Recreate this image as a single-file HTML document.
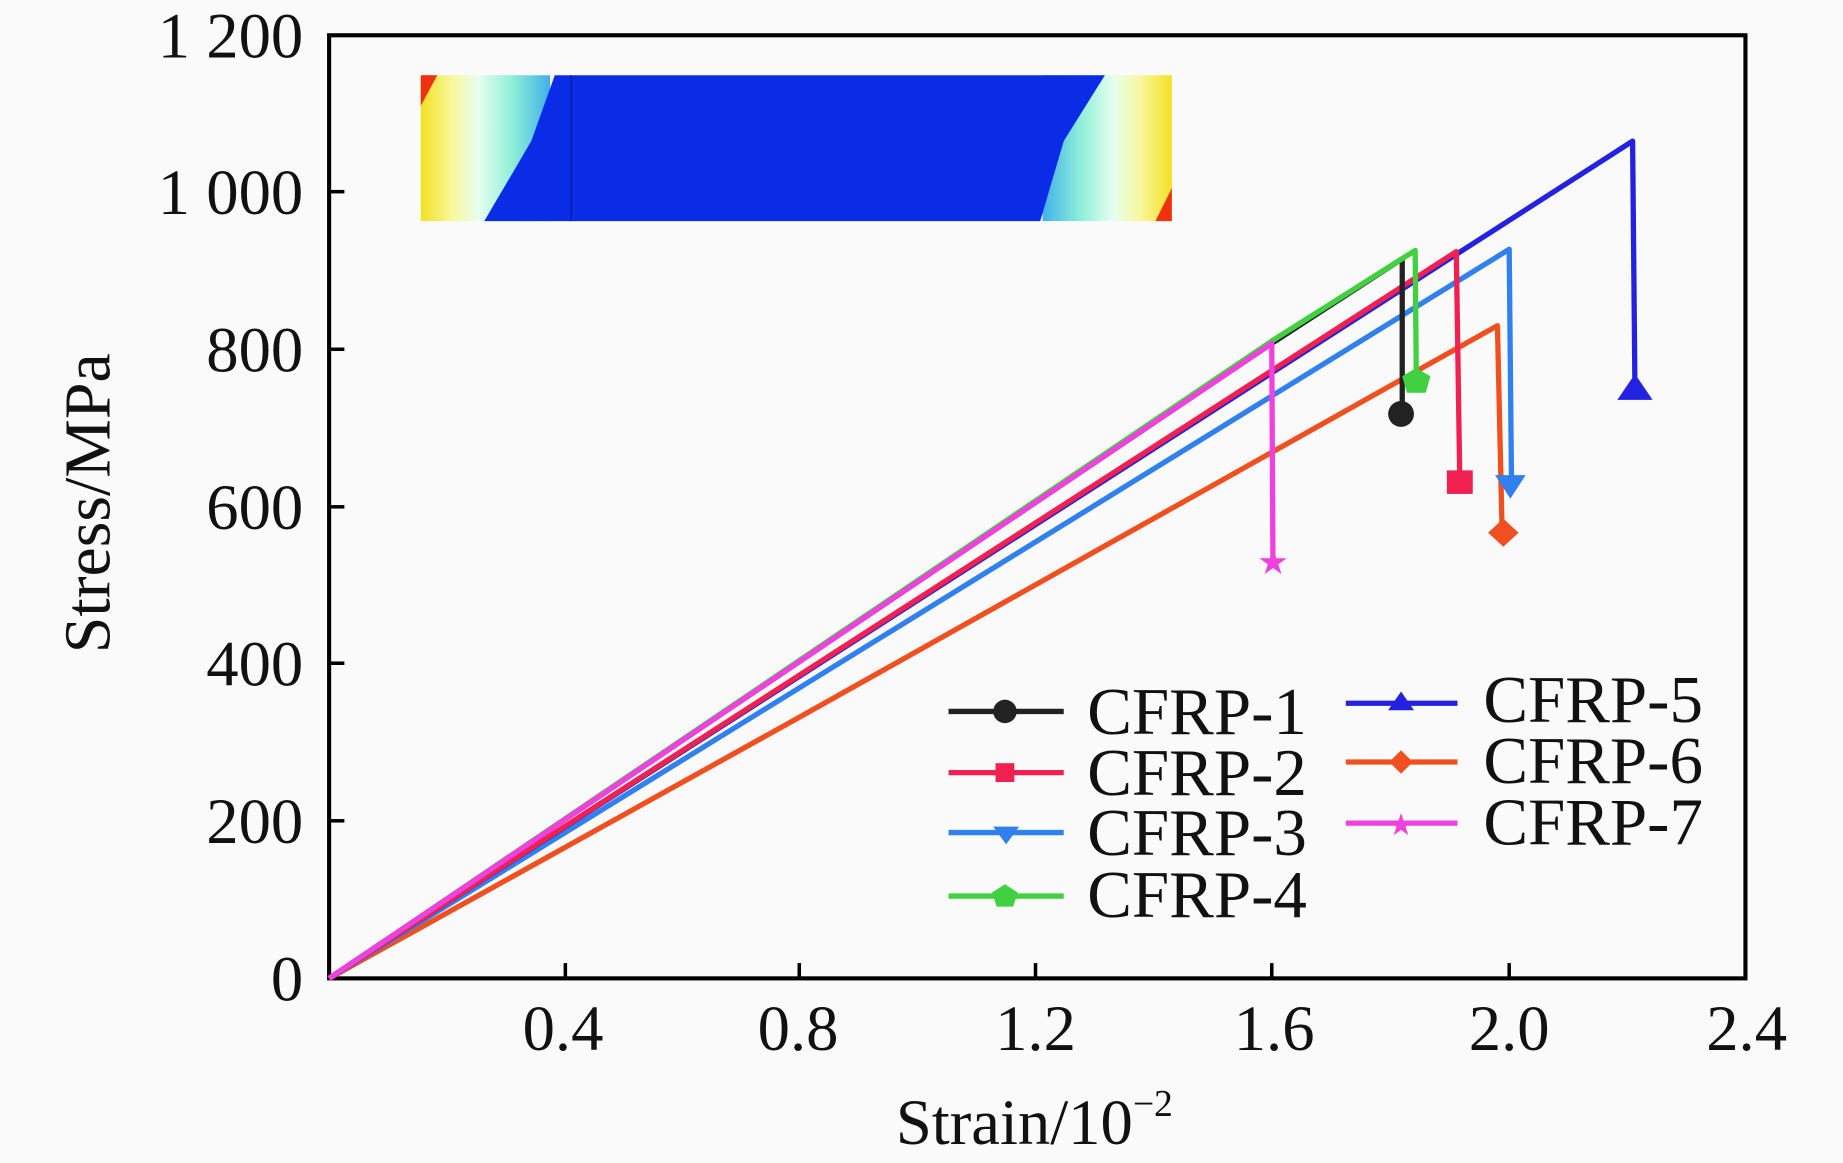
<!DOCTYPE html>
<html><head><meta charset="utf-8"><style>
html,body{margin:0;padding:0;background:#fafafa;}
svg{display:block;}
text{font-family:"Liberation Serif",serif;fill:#111;}
</style></head><body>
<svg width="1843" height="1163" viewBox="0 0 1568 989" preserveAspectRatio="none" xmlns="http://www.w3.org/2000/svg">
<defs>
<linearGradient id="gl" x1="0" x2="1" y1="0" y2="0">
<stop offset="0" stop-color="#f4e020"/><stop offset="0.25" stop-color="#f8f8a0"/><stop offset="0.45" stop-color="#e6fff0"/><stop offset="0.7" stop-color="#90f0d8"/><stop offset="1" stop-color="#40b0e8"/>
</linearGradient>
<linearGradient id="gr" x1="1" x2="0" y1="0" y2="0">
<stop offset="0" stop-color="#f4e020"/><stop offset="0.25" stop-color="#f8f8a0"/><stop offset="0.45" stop-color="#e6fff0"/><stop offset="0.7" stop-color="#90f0d8"/><stop offset="1" stop-color="#40b0e8"/>
</linearGradient>
</defs>
<!-- inset -->
<rect x="358" y="64" width="110" height="124" fill="url(#gl)"/>
<rect x="887" y="64" width="110" height="124" fill="url(#gr)"/>
<polygon points="358,64 372,64 358,90" fill="#f03010"/>
<polygon points="997,188 983,188 997,160" fill="#f03010"/>
<polygon points="472,64 940,64 905,120 885,188 412,188 452,120" fill="#0a2ce6"/>
<line x1="486" y1="64" x2="486" y2="188" stroke="#0820b0" stroke-width="1.5"/>
<!-- axes -->
<rect x="280" y="30" width="1205" height="802" fill="none" stroke="#000" stroke-width="3.5"/>
<g stroke="#000" stroke-width="3">
<line x1="481" y1="832" x2="481" y2="819"/><line x1="680" y1="832" x2="680" y2="819"/><line x1="881" y1="832" x2="881" y2="819"/><line x1="1082" y1="832" x2="1082" y2="819"/><line x1="1284" y1="832" x2="1284" y2="819"/>
<line x1="280" y1="698" x2="293" y2="698"/><line x1="280" y1="564" x2="293" y2="564"/><line x1="280" y1="431" x2="293" y2="431"/><line x1="280" y1="297" x2="293" y2="297"/><line x1="280" y1="163" x2="293" y2="163"/>
</g>
<g font-size="55" text-anchor="end">
<text x="258" y="851">0</text><text x="258" y="717">200</text><text x="258" y="583">400</text><text x="258" y="450">600</text><text x="258" y="316">800</text><text x="258" y="182">1 000</text><text x="258" y="49">1 200</text>
</g>
<g font-size="55" text-anchor="middle">
<text x="479" y="893">0.4</text><text x="679" y="893">0.8</text><text x="881" y="893">1.2</text><text x="1084" y="893">1.6</text><text x="1284" y="893">2.0</text><text x="1486" y="893">2.4</text>
</g>
<text x="880" y="973" font-size="55" text-anchor="middle">Strain/10<tspan font-size="32" dy="-24">−2</tspan></text>
<text transform="translate(93,428) rotate(-90)" font-size="56" text-anchor="middle">Stress/MPa</text>
<!-- series -->
<g fill="none" stroke-width="4.5" stroke-linejoin="round">
<polyline stroke="#f05020" points="280,832 680,610 1274,277 1278,453"/>
<polyline stroke="#3080f0" points="280,832 1284,212 1286,414"/>
<polyline stroke="#2222e0" points="280,832 1389,120 1391,332"/>
<polyline stroke="#f02050" points="280,832 1239,214 1242,411"/>
<polyline stroke="#222" points="280,832 1082,292 1193,220 1193,352"/>
<polyline stroke="#40d040" points="280,832 1082,290 1204,213 1205,324"/>
<polyline stroke="#f040e0" points="280,832 1082,292 1083,478"/>
</g>
<!-- markers -->
<circle cx="1192" cy="352" r="11" fill="#222"/>
<rect x="1231" y="400" width="22" height="20" fill="#f02050"/>
<polygon points="1272,404 1298,404 1285,424" fill="#3080f0"/>
<polygon points="1205,313 1217,320 1213,334 1197,334 1193,320" fill="#40d040"/>
<polygon points="1391,318 1406,340 1376,340" fill="#2222e0"/>
<polygon points="1279,441 1292,453 1279,465 1266,453" fill="#f05020"/>
<text x="1083" y="488" font-size="30" text-anchor="middle" style="fill:#f040e0">★</text>
<!-- legend -->
<g stroke-width="4.5">
<line x1="807" y1="605" x2="905" y2="605" stroke="#222"/>
<line x1="807" y1="657" x2="905" y2="657" stroke="#f02050"/>
<line x1="807" y1="708" x2="905" y2="708" stroke="#3080f0"/>
<line x1="807" y1="762" x2="905" y2="762" stroke="#40d040"/>
<line x1="1145" y1="598" x2="1240" y2="598" stroke="#2222e0"/>
<line x1="1145" y1="648" x2="1240" y2="648" stroke="#f05020"/>
<line x1="1145" y1="700" x2="1240" y2="700" stroke="#f040e0"/>
</g>
<circle cx="855" cy="605" r="10" fill="#222"/>
<rect x="847" y="649" width="16" height="16" fill="#f02050"/>
<polygon points="845,703 867,703 856,718" fill="#3080f0"/>
<polygon points="855,752 866,759 862,771 848,771 844,759" fill="#40d040"/>
<polygon points="1192,588 1203,604 1181,604" fill="#2222e0"/>
<polygon points="1192,638 1202,648 1192,658 1182,648" fill="#f05020"/>
<text x="1192" y="710" font-size="26" text-anchor="middle" style="fill:#f040e0">★</text>
<g font-size="57">
<text x="925" y="624">CFRP-1</text><text x="925" y="676">CFRP-2</text><text x="925" y="727">CFRP-3</text><text x="925" y="780">CFRP-4</text>
<text x="1262" y="614">CFRP-5</text><text x="1262" y="666">CFRP-6</text><text x="1262" y="718">CFRP-7</text>
</g>
</svg>
</body></html>
